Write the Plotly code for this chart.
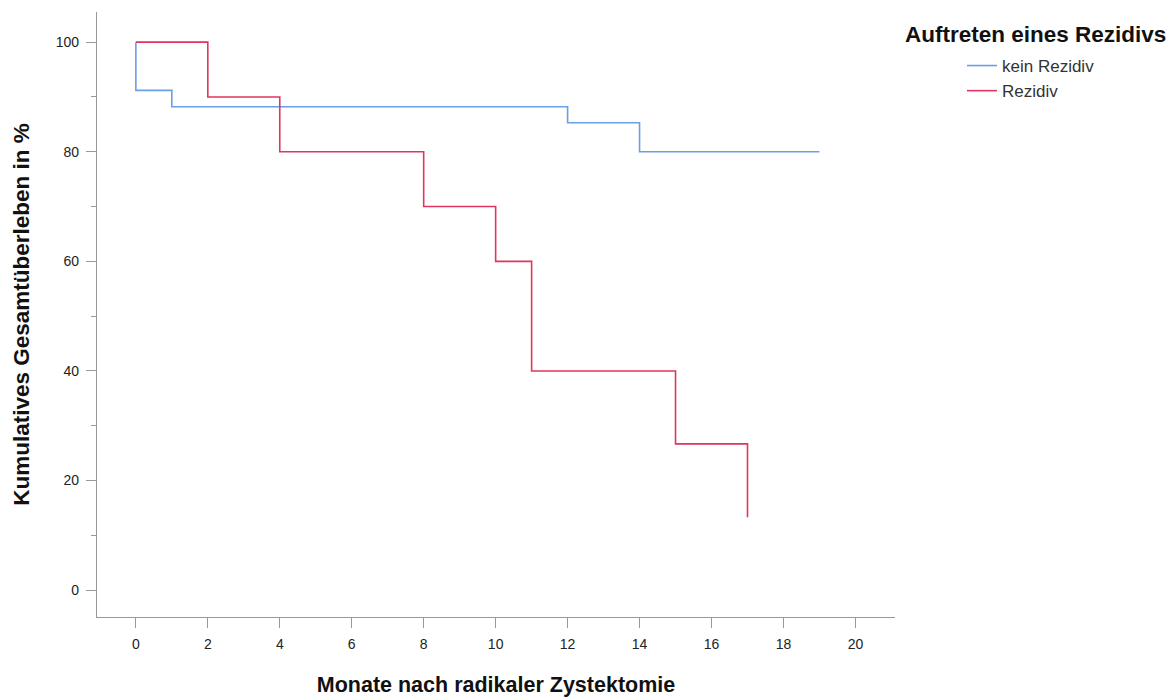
import plotly.graph_objects as go

# Data
kein_x = [0, 0, 1, 12, 14, 19]
kein_y = [100, 91.2, 88.2, 85.3, 80.0, 80.0]
rez_x = [0, 2, 4, 8, 10, 11, 15, 17]
rez_y = [100, 90, 80, 70, 60, 40, 26.7, 13.3]
x_ticks = list(range(0, 21, 2))
y_ticks = list(range(0, 101, 20))

W, H = 1174, 697
L, T, R, B = 97, 12, 1174 - 895, 697 - 617
PH = 617 - 12

fig = go.Figure()
fig.add_trace(go.Scatter(x=kein_x, y=kein_y, mode="lines", line_shape="hv",
                         name="kein Rezidiv", line=dict(color="#6A9FE6", width=1.6)))
fig.add_trace(go.Scatter(x=rez_x, y=rez_y, mode="lines", line_shape="hv",
                         name="Rezidiv", line=dict(color="#E0355E", width=1.6)))

axis_common = dict(showgrid=False, zeroline=False, showline=True, linecolor="#999999",
                   linewidth=1.2, ticks="outside", tickcolor="#999999", ticklen=10,
                   automargin=False,
                   tickfont=dict(family="Liberation Sans, Arial", size=14, color="#222222"))

fig.update_layout(
    width=W, height=H,
    margin=dict(l=L, r=R, t=T, b=B),
    paper_bgcolor="white", plot_bgcolor="white",
    font=dict(family="Liberation Sans, Arial", color="#222222"),
    xaxis=dict(range=[-1.08, 21.1], tickvals=x_ticks, ticklabelstandoff=4, **axis_common,
               title=dict(text="<b>Monate nach radikaler Zystektomie</b>",
                          font=dict(size=21.5, color="#111111"), standoff=30)),
    yaxis=dict(range=[-4.9, 105.5], tickvals=y_ticks, ticklabelstandoff=4, **axis_common,
               minor=dict(dtick=10, tick0=0, ticks="outside", ticklen=5, tickcolor="#999999"),
               title=dict(text="<b>Kumulatives Gesamtüberleben in %</b>",
                          font=dict(size=22.5, color="#111111"), standoff=19)),
    showlegend=True,
    legend=dict(x=(962 - L) / (895 - L), y=(617 - 48) / PH, xanchor="left", yanchor="top",
                font=dict(size=17, color="#333333"), bgcolor="rgba(0,0,0,0)",
                tracegroupgap=0, itemwidth=30),
    annotations=[dict(text="<b>Auftreten eines Rezidivs</b>", xref="paper", yref="paper",
                      x=(903 - L) / (895 - L), y=(617 - 35) / PH, xanchor="left", yanchor="middle",
                      showarrow=False, font=dict(size=22.5, color="#111111"))],
)

fig.write_html("out.html", config={"displayModeBar": False},
               post_script="document.body.style.margin='0px';")
